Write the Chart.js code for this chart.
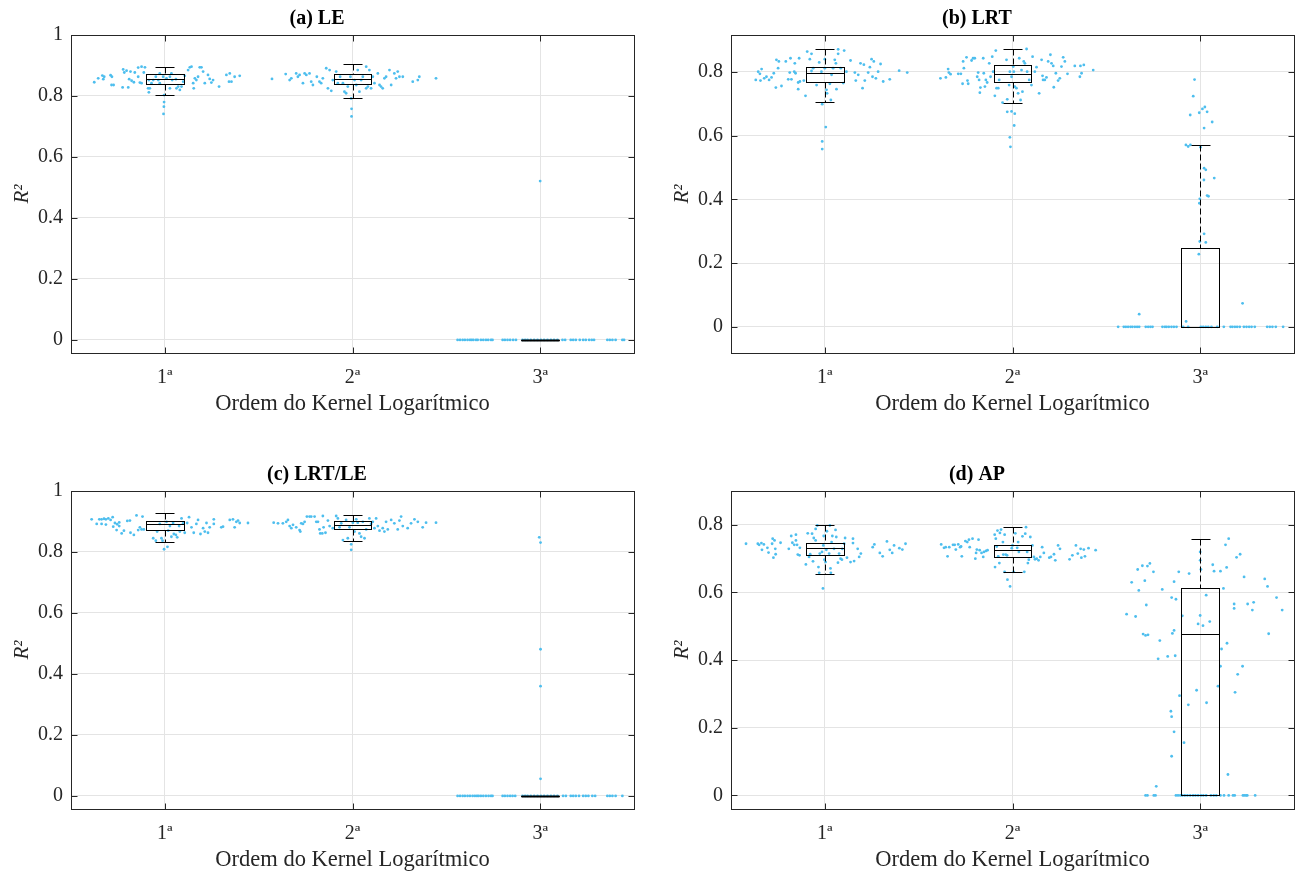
<!DOCTYPE html>
<html>
<head>
<meta charset="utf-8">
<script src="https://cdn.jsdelivr.net/npm/chart.js@4.4.1/dist/chart.umd.min.js"></script>
<style>
  body { margin: 0; background: #fff; overflow: hidden; }
  #wrap { position: relative; width: 1298px; height: 873px; overflow: hidden; }
  canvas { position: absolute; }
</style>
</head>
<body>
<div id="wrap">
  <canvas id="cA" width="644" height="436" style="left:0;top:0"></canvas>
  <canvas id="cB" width="644" height="436" style="left:660px;top:0"></canvas>
  <canvas id="cC" width="644" height="436" style="left:0;top:456px"></canvas>
  <canvas id="cD" width="644" height="436" style="left:660px;top:456px"></canvas>
</div>
<script>
// ── 데이터 ──
const orderLabels = ['1ª', '2ª', '3ª'];
const panelTitles = ['(a) LE', '(b) LRT', '(c) LRT/LE', '(d) AP'];
const xTitle = 'Ordem do Kernel Logarítmico';
const yTitle = 'R²';
const yTicksFull = [0, 0.2, 0.4, 0.6, 0.8, 1];
const yTicksShort = [0, 0.2, 0.4, 0.6, 0.8];

// box stats per order: [lower whisker, q1, median, q3, upper whisker]
const leBoxes = [[0.803, 0.838, 0.856, 0.871, 0.896], [0.792, 0.839, 0.857, 0.873, 0.904], [0, 0, 0, 0, 0]];
const lrtBoxes = [[0.707, 0.769, 0.796, 0.816, 0.871], [0.703, 0.767, 0.793, 0.821, 0.872], [0, 0, 0, 0.247, 0.571]];
const lrtleBoxes = [[0.832, 0.872, 0.891, 0.903, 0.929], [0.836, 0.875, 0.890, 0.901, 0.921], [0, 0, 0, 0, 0]];
const apBoxes = [[0.656, 0.712, 0.732, 0.747, 0.800], [0.660, 0.705, 0.725, 0.741, 0.794], [0, 0, 0.476, 0.614, 0.759]];

// points: [offset from order position, R²]
const le1 = [[-0.376,0.845],[-0.355,0.858],[-0.333,0.867],[-0.328,0.855],[-0.323,0.863],[-0.289,0.868],[-0.282,0.863],[-0.284,0.836],[-0.273,0.836],[-0.222,0.887],[-0.216,0.877],[-0.225,0.828],[-0.195,0.828],[-0.204,0.883],[-0.183,0.880],[-0.190,0.855],[-0.177,0.850],[-0.165,0.845],[-0.160,0.877],[-0.142,0.893],[-0.142,0.863],[-0.133,0.844],[-0.124,0.842],[-0.124,0.896],[-0.106,0.894],[-0.112,0.877],[-0.089,0.825],[-0.080,0.825],[-0.085,0.812],[-0.085,0.852],[-0.071,0.842],[-0.062,0.852],[-0.048,0.863],[-0.035,0.852],[-0.027,0.874],[-0.027,0.842],[-0.009,0.863],[-0.004,0.803],[-0.004,0.780],[-0.005,0.765],[-0.007,0.741],[0.009,0.858],[0.027,0.863],[0.035,0.874],[0.027,0.825],[0.039,0.852],[0.059,0.855],[0.062,0.825],[0.071,0.831],[0.080,0.820],[0.089,0.831],[0.098,0.847],[0.106,0.866],[0.124,0.885],[0.133,0.894],[0.142,0.896],[0.151,0.842],[0.160,0.858],[0.154,0.825],[0.168,0.852],[0.177,0.863],[0.186,0.894],[0.195,0.894],[0.204,0.880],[0.213,0.842],[0.230,0.869],[0.239,0.856],[0.248,0.844],[0.257,0.852],[0.289,0.831],[0.328,0.869],[0.346,0.874],[0.342,0.847],[0.355,0.847],[0.372,0.863],[0.399,0.866]];
const le2 = [[-0.429,0.856],[-0.356,0.872],[-0.335,0.852],[-0.326,0.858],[-0.300,0.874],[-0.291,0.863],[-0.282,0.869],[-0.264,0.842],[-0.255,0.874],[-0.246,0.869],[-0.229,0.874],[-0.220,0.847],[-0.211,0.836],[-0.190,0.863],[-0.176,0.847],[-0.167,0.842],[-0.158,0.858],[-0.140,0.891],[-0.131,0.825],[-0.122,0.885],[-0.113,0.817],[-0.105,0.852],[-0.087,0.880],[-0.078,0.842],[-0.066,0.863],[-0.051,0.842],[-0.043,0.814],[-0.034,0.809],[-0.025,0.831],[-0.011,0.863],[-0.007,0.792],[-0.005,0.758],[-0.005,0.733],[0.011,0.852],[0.020,0.836],[0.028,0.885],[0.037,0.814],[0.046,0.852],[0.055,0.863],[0.073,0.825],[0.073,0.896],[0.082,0.831],[0.090,0.885],[0.099,0.825],[0.108,0.863],[0.117,0.842],[0.135,0.874],[0.144,0.836],[0.152,0.831],[0.161,0.825],[0.170,0.858],[0.179,0.863],[0.197,0.885],[0.206,0.836],[0.223,0.874],[0.232,0.858],[0.241,0.880],[0.250,0.863],[0.268,0.863],[0.321,0.847],[0.348,0.852],[0.356,0.863],[0.445,0.858]];
const le3 = [[-0.440,0],[-0.427,0],[-0.413,0],[-0.401,0],[-0.387,0],[-0.374,0],[-0.365,0],[-0.356,0],[-0.342,0],[-0.333,0],[-0.316,0],[-0.303,0],[-0.289,0],[-0.277,0],[-0.262,0],[-0.254,0],[-0.200,0],[-0.188,0],[-0.174,0],[-0.160,0],[-0.144,0],[-0.129,0],[-0.094,0],[-0.080,0],[-0.067,0],[-0.050,0],[-0.032,0],[-0.014,0],[0.004,0],[0.021,0],[0.039,0],[0.057,0],[0.074,0],[0.092,0],[0.119,0],[0.133,0],[0.163,0],[0.176,0],[0.190,0],[0.211,0],[0.229,0],[0.243,0],[0.261,0],[0.275,0],[0.287,0],[0.358,0],[0.371,0],[0.385,0],[0.402,0],[0.438,0],[0.447,0],[0.000,0.521]];

const lrt1 = [[-0.368,0.775],[-0.355,0.801],[-0.346,0.794],[-0.337,0.809],[-0.343,0.773],[-0.323,0.780],[-0.311,0.785],[-0.297,0.775],[-0.284,0.783],[-0.272,0.796],[-0.261,0.751],[-0.258,0.838],[-0.245,0.833],[-0.249,0.812],[-0.231,0.756],[-0.208,0.833],[-0.195,0.777],[-0.187,0.798],[-0.183,0.843],[-0.178,0.777],[-0.163,0.801],[-0.160,0.827],[-0.156,0.796],[-0.142,0.767],[-0.142,0.746],[-0.137,0.843],[-0.133,0.770],[-0.112,0.773],[-0.103,0.725],[-0.094,0.864],[-0.080,0.840],[-0.071,0.857],[-0.071,0.803],[-0.062,0.812],[-0.044,0.759],[-0.030,0.830],[-0.018,0.801],[0.000,0.840],[0.000,0.812],[0.009,0.744],[0.012,0.733],[0.027,0.763],[0.032,0.712],[0.036,0.791],[0.044,0.812],[0.053,0.838],[0.059,0.827],[0.062,0.746],[0.071,0.871],[0.071,0.857],[0.085,0.812],[0.098,0.765],[0.103,0.867],[0.115,0.801],[0.137,0.836],[0.160,0.798],[0.165,0.773],[0.178,0.791],[0.190,0.827],[0.201,0.749],[0.208,0.823],[0.213,0.773],[0.231,0.798],[0.240,0.815],[0.249,0.840],[0.254,0.785],[0.261,0.833],[0.272,0.780],[0.284,0.801],[0.297,0.825],[0.311,0.770],[0.346,0.777],[0.396,0.804],[0.439,0.798],[-0.014,0.699],[0.005,0.627],[-0.014,0.582],[-0.014,0.558]];
const lrt2 = [[-0.384,0.780],[-0.355,0.783],[-0.343,0.809],[-0.339,0.798],[-0.330,0.793],[-0.289,0.794],[-0.275,0.794],[-0.266,0.763],[-0.263,0.833],[-0.259,0.812],[-0.245,0.846],[-0.240,0.773],[-0.236,0.763],[-0.218,0.836],[-0.210,0.843],[-0.201,0.843],[-0.188,0.785],[-0.183,0.798],[-0.178,0.775],[-0.174,0.735],[-0.171,0.751],[-0.156,0.843],[-0.153,0.796],[-0.147,0.754],[-0.142,0.775],[-0.135,0.767],[-0.124,0.827],[-0.117,0.785],[-0.108,0.848],[-0.103,0.801],[-0.094,0.725],[-0.089,0.867],[-0.085,0.749],[-0.076,0.749],[-0.071,0.775],[-0.053,0.704],[-0.032,0.838],[-0.028,0.714],[-0.018,0.759],[-0.014,0.801],[-0.005,0.785],[0.004,0.817],[0.007,0.801],[0.012,0.754],[0.021,0.749],[0.030,0.733],[0.036,0.843],[0.043,0.712],[0.048,0.806],[0.053,0.738],[0.060,0.833],[0.066,0.827],[0.075,0.872],[0.078,0.801],[0.089,0.775],[0.101,0.759],[0.107,0.848],[0.119,0.801],[0.128,0.815],[0.142,0.733],[0.155,0.838],[0.160,0.788],[0.163,0.775],[0.172,0.775],[0.181,0.783],[0.190,0.833],[0.202,0.854],[0.208,0.827],[0.217,0.819],[0.220,0.752],[0.231,0.796],[0.243,0.773],[0.252,0.780],[0.261,0.817],[0.270,0.846],[0.279,0.833],[0.293,0.794],[0.332,0.819],[0.359,0.785],[0.362,0.819],[0.368,0.796],[0.380,0.822],[0.430,0.806],[-0.028,0.675],[-0.005,0.676],[0.012,0.669],[0.009,0.632],[-0.014,0.595],[-0.011,0.565]];
const lrt3 = [[-0.437,0],[-0.407,0],[-0.396,0],[-0.384,0],[-0.371,0],[-0.361,0],[-0.348,0],[-0.336,0],[-0.325,0],[-0.290,0],[-0.277,0],[-0.265,0],[-0.254,0],[-0.201,0],[-0.188,0],[-0.179,0],[-0.167,0],[-0.153,0],[-0.140,0],[-0.126,0],[-0.091,0],[-0.064,0],[0.004,0],[0.016,0],[0.030,0],[0.043,0],[0.060,0],[0.091,0],[0.126,0],[0.162,0],[0.172,0],[0.185,0],[0.197,0],[0.211,0],[0.233,0],[0.247,0],[0.261,0],[0.274,0],[0.291,0],[0.357,0],[0.371,0],[0.385,0],[0.403,0],[0.442,0],[-0.076,0.571],[-0.064,0.566],[-0.052,0.571],[0.002,0.564],[0.021,0.498],[0.030,0.493],[0.020,0.461],[0.075,0.467],[0.037,0.412],[0.044,0.410],[-0.002,0.402],[-0.004,0.388],[0.021,0.292],[-0.002,0.268],[0.030,0.265],[-0.007,0.228],[-0.075,0.017],[-0.325,0.040],[0.226,0.074],[-0.030,0.776],[-0.037,0.724],[0.025,0.690],[0.012,0.684],[0.037,0.675],[-0.005,0.672],[-0.053,0.665],[0.064,0.643],[0.021,0.624]];

const lrtle1 = [[-0.390,0.907],[-0.363,0.892],[-0.349,0.907],[-0.337,0.907],[-0.337,0.892],[-0.324,0.909],[-0.314,0.907],[-0.314,0.890],[-0.301,0.910],[-0.289,0.905],[-0.278,0.914],[-0.275,0.883],[-0.266,0.895],[-0.257,0.872],[-0.254,0.891],[-0.243,0.897],[-0.243,0.885],[-0.230,0.861],[-0.218,0.870],[-0.200,0.902],[-0.186,0.903],[-0.183,0.863],[-0.165,0.856],[-0.151,0.920],[-0.142,0.872],[-0.133,0.881],[-0.124,0.874],[-0.119,0.916],[-0.112,0.874],[-0.062,0.845],[-0.048,0.837],[-0.041,0.867],[-0.027,0.892],[-0.018,0.845],[-0.012,0.837],[-0.004,0.809],[0.009,0.899],[0.014,0.817],[0.018,0.870],[0.027,0.885],[0.035,0.850],[0.044,0.895],[0.048,0.859],[0.059,0.856],[0.066,0.848],[0.076,0.885],[0.080,0.867],[0.089,0.910],[0.098,0.894],[0.106,0.863],[0.119,0.895],[0.129,0.914],[0.142,0.881],[0.154,0.863],[0.168,0.892],[0.177,0.905],[0.190,0.859],[0.204,0.878],[0.213,0.867],[0.222,0.895],[0.230,0.863],[0.239,0.881],[0.261,0.907],[0.261,0.892],[0.301,0.881],[0.310,0.883],[0.346,0.905],[0.363,0.907],[0.372,0.881],[0.381,0.899],[0.390,0.903],[0.399,0.895],[0.443,0.895]];
const lrtle2 = [[-0.420,0.896],[-0.397,0.894],[-0.371,0.894],[-0.353,0.899],[-0.344,0.905],[-0.335,0.885],[-0.326,0.878],[-0.317,0.889],[-0.300,0.881],[-0.282,0.872],[-0.278,0.867],[-0.273,0.894],[-0.264,0.892],[-0.255,0.899],[-0.243,0.916],[-0.229,0.916],[-0.220,0.916],[-0.202,0.916],[-0.193,0.899],[-0.184,0.899],[-0.176,0.874],[-0.172,0.861],[-0.161,0.861],[-0.158,0.918],[-0.154,0.881],[-0.144,0.863],[-0.131,0.903],[-0.122,0.885],[-0.105,0.878],[-0.087,0.918],[-0.078,0.910],[-0.069,0.881],[-0.060,0.894],[-0.051,0.839],[-0.034,0.905],[-0.025,0.845],[-0.016,0.881],[-0.007,0.825],[-0.007,0.807],[0.002,0.896],[0.011,0.867],[0.020,0.907],[0.028,0.896],[0.037,0.861],[0.046,0.850],[0.055,0.899],[0.064,0.845],[0.073,0.874],[0.090,0.910],[0.099,0.892],[0.108,0.899],[0.117,0.878],[0.126,0.910],[0.135,0.885],[0.144,0.870],[0.161,0.878],[0.170,0.867],[0.179,0.899],[0.188,0.874],[0.206,0.905],[0.223,0.894],[0.241,0.874],[0.250,0.903],[0.259,0.916],[0.268,0.885],[0.294,0.878],[0.312,0.894],[0.330,0.907],[0.348,0.899],[0.374,0.881],[0.392,0.896],[0.445,0.896]];
const lrtle3 = [[-0.440,0],[-0.427,0],[-0.413,0],[-0.401,0],[-0.387,0],[-0.374,0],[-0.360,0],[-0.348,0],[-0.337,0],[-0.328,0],[-0.316,0],[-0.303,0],[-0.289,0],[-0.275,0],[-0.262,0],[-0.254,0],[-0.200,0],[-0.188,0],[-0.174,0],[-0.160,0],[-0.147,0],[-0.133,0],[-0.094,0],[-0.080,0],[-0.067,0],[-0.050,0],[-0.032,0],[-0.014,0],[0.004,0],[0.021,0],[0.039,0],[0.057,0],[0.074,0],[0.092,0],[0.122,0],[0.137,0],[0.163,0],[0.176,0],[0.190,0],[0.207,0],[0.229,0],[0.243,0],[0.257,0],[0.278,0],[0.293,0],[0.358,0],[0.371,0],[0.385,0],[0.402,0],[0.438,0],[-0.005,0.848],[0.002,0.831],[0.002,0.481],[0.002,0.360],[0.002,0.056]];

const ap1 = [[-0.420,0.744],[-0.357,0.744],[-0.350,0.741],[-0.338,0.746],[-0.335,0.726],[-0.325,0.742],[-0.306,0.732],[-0.300,0.718],[-0.281,0.744],[-0.278,0.759],[-0.274,0.703],[-0.268,0.754],[-0.262,0.713],[-0.264,0.729],[-0.236,0.747],[-0.192,0.729],[-0.179,0.767],[-0.173,0.747],[-0.163,0.741],[-0.154,0.771],[-0.154,0.754],[-0.148,0.741],[-0.144,0.712],[-0.133,0.732],[-0.135,0.710],[-0.101,0.683],[-0.091,0.775],[-0.084,0.705],[-0.078,0.713],[-0.068,0.774],[-0.063,0.692],[-0.059,0.761],[-0.049,0.754],[-0.049,0.788],[-0.040,0.798],[-0.034,0.675],[-0.030,0.658],[-0.027,0.715],[-0.015,0.720],[-0.008,0.739],[-0.006,0.767],[-0.002,0.697],[0.004,0.690],[0.008,0.726],[0.011,0.781],[0.023,0.715],[0.027,0.798],[0.030,0.671],[0.032,0.658],[0.036,0.749],[0.040,0.767],[0.049,0.729],[0.057,0.785],[0.061,0.764],[0.070,0.688],[0.076,0.715],[0.084,0.700],[0.091,0.697],[0.093,0.729],[0.103,0.744],[0.108,0.761],[0.118,0.703],[0.137,0.690],[0.150,0.759],[0.150,0.746],[0.156,0.693],[0.175,0.729],[0.183,0.705],[0.192,0.715],[0.255,0.734],[0.264,0.742],[0.293,0.717],[0.308,0.707],[0.331,0.751],[0.346,0.726],[0.359,0.717],[0.369,0.739],[0.397,0.731],[0.413,0.727],[0.430,0.744],[-0.010,0.612]];
const ap2 = [[-0.380,0.742],[-0.365,0.732],[-0.356,0.734],[-0.346,0.707],[-0.337,0.734],[-0.317,0.741],[-0.308,0.741],[-0.302,0.727],[-0.289,0.742],[-0.279,0.734],[-0.274,0.736],[-0.270,0.707],[-0.251,0.752],[-0.241,0.749],[-0.232,0.756],[-0.228,0.734],[-0.213,0.759],[-0.198,0.700],[-0.194,0.717],[-0.190,0.727],[-0.181,0.756],[-0.175,0.725],[-0.165,0.717],[-0.156,0.705],[-0.152,0.720],[-0.141,0.723],[-0.133,0.725],[-0.095,0.771],[-0.093,0.675],[-0.089,0.759],[-0.084,0.736],[-0.080,0.783],[-0.076,0.707],[-0.070,0.687],[-0.067,0.776],[-0.061,0.786],[-0.051,0.749],[-0.049,0.712],[-0.042,0.771],[-0.036,0.712],[-0.042,0.661],[-0.029,0.710],[-0.027,0.638],[-0.013,0.618],[-0.004,0.731],[0.000,0.739],[0.006,0.661],[0.015,0.775],[0.025,0.732],[0.030,0.749],[0.034,0.720],[0.053,0.766],[0.063,0.661],[0.068,0.774],[0.072,0.793],[0.078,0.720],[0.082,0.687],[0.087,0.697],[0.095,0.764],[0.106,0.739],[0.114,0.705],[0.120,0.698],[0.129,0.700],[0.139,0.695],[0.148,0.705],[0.158,0.734],[0.167,0.717],[0.196,0.703],[0.205,0.705],[0.221,0.713],[0.228,0.695],[0.243,0.739],[0.253,0.729],[0.304,0.698],[0.319,0.710],[0.338,0.739],[0.348,0.715],[0.363,0.729],[0.367,0.703],[0.380,0.727],[0.386,0.707],[0.405,0.731],[0.443,0.725]];
const ap3 = [[-0.392,0.536],[-0.365,0.630],[-0.344,0.529],[-0.333,0.668],[-0.327,0.606],[-0.308,0.679],[-0.295,0.635],[-0.287,0.563],[-0.281,0.678],[-0.268,0.686],[-0.249,0.661],[-0.304,0.477],[-0.291,0.473],[-0.278,0.475],[-0.224,0.404],[-0.215,0.458],[-0.202,0.609],[-0.173,0.411],[-0.152,0.585],[-0.148,0.479],[-0.139,0.488],[-0.133,0.413],[-0.129,0.580],[-0.139,0.632],[-0.114,0.661],[-0.110,0.295],[-0.095,0.531],[-0.156,0.249],[-0.152,0.233],[-0.139,0.188],[-0.152,0.116],[-0.086,0.156],[-0.234,0.027],[-0.063,0.268],[-0.059,0.656],[-0.019,0.311],[-0.011,0.507],[0.000,0.532],[0.000,0.720],[0.000,0.695],[0.004,0.668],[0.015,0.502],[0.032,0.592],[0.034,0.274],[0.051,0.514],[0.067,0.682],[0.074,0.663],[0.095,0.323],[0.108,0.663],[0.114,0.433],[0.124,0.612],[0.141,0.674],[0.143,0.450],[0.108,0.382],[0.135,0.741],[0.152,0.759],[0.181,0.566],[0.181,0.553],[0.186,0.305],[0.194,0.704],[0.200,0.358],[0.213,0.713],[0.226,0.382],[0.234,0.646],[0.253,0.566],[0.278,0.548],[0.285,0.571],[0.344,0.640],[0.359,0.618],[0.365,0.478],[0.407,0.585],[0.437,0.548],[0.148,0.062],[-0.291,0],[-0.281,0],[-0.247,0],[-0.238,0],[-0.129,0],[-0.118,0],[-0.106,0],[-0.095,0],[-0.082,0],[-0.068,0],[-0.053,0],[-0.038,0],[-0.025,0],[-0.011,0],[0.004,0],[0.017,0],[0.032,0],[0.057,0],[0.072,0],[0.086,0],[0.108,0],[0.127,0],[0.152,0],[0.175,0],[0.184,0],[0.228,0],[0.236,0],[0.245,0],[0.251,0],[0.293,0]];

// ── 스타일 ──
const SERIF = "'Liberation Serif', 'Times New Roman', serif";
const INK = '#262626';
const DOT = '#4DBEEE';
const BOX_HALF = 0.1, CAP_HALF = 0.05, TICK_LEN = 6;

const crisp = v => Math.round(v) + 0.5;

// ── 박스/프레임 플러그인 ──
const boxPlugin = {
  id: 'boxes',
  afterDatasetsDraw(chart, args, opts) {
    const { ctx, scales: { x, y } } = chart;
    const seg = (x1, y1, x2, y2) => { ctx.beginPath(); ctx.moveTo(x1, y1); ctx.lineTo(x2, y2); ctx.stroke(); };
    ctx.save();
    ctx.strokeStyle = '#000';
    ctx.lineWidth = 1;
    opts.stats.forEach((s, i) => {
      const c = i + 1;
      const [lo, q1, med, q3, hi] = s;
      const xc = crisp(x.getPixelForValue(c));
      const xl = crisp(x.getPixelForValue(c - BOX_HALF)), xr = crisp(x.getPixelForValue(c + BOX_HALF));
      const cl = crisp(x.getPixelForValue(c - CAP_HALF)), cr = crisp(x.getPixelForValue(c + CAP_HALF));
      const py = v => crisp(y.getPixelForValue(v));
      ctx.setLineDash([6, 3]);
      if (hi > q3) seg(xc, py(hi), xc, py(q3));
      if (lo < q1) seg(xc, py(q1), xc, py(lo));
      ctx.setLineDash([]);
      seg(cl, py(hi), cr, py(hi));
      seg(cl, py(lo), cr, py(lo));
      ctx.strokeRect(xl, py(q3), xr - xl, py(q1) - py(q3));
      seg(xl, py(med), xr, py(med));
      if (q3 === q1) { ctx.lineWidth = 2; seg(xl, py(q1), xr, py(q1)); ctx.lineWidth = 1; }
    });
    ctx.restore();
  },
  afterDraw(chart) {
    const { ctx, chartArea: a, scales: { x, y } } = chart;
    ctx.save();
    ctx.strokeStyle = INK;
    ctx.lineWidth = 1;
    const L = crisp(a.left), R = crisp(a.right), T = crisp(a.top), B = crisp(a.bottom);
    ctx.beginPath();
    y.ticks.forEach(t => {
      const p = crisp(y.getPixelForValue(t.value));
      ctx.moveTo(L, p); ctx.lineTo(L + TICK_LEN, p);
      ctx.moveTo(R, p); ctx.lineTo(R - TICK_LEN, p);
    });
    x.ticks.forEach(t => {
      const p = crisp(x.getPixelForValue(t.value));
      ctx.moveTo(p, B); ctx.lineTo(p, B - TICK_LEN);
      ctx.moveTo(p, T); ctx.lineTo(p, T + TICK_LEN);
    });
    ctx.stroke();
    ctx.strokeRect(L, T, R - L, B - T);
    ctx.restore();
  }
};

function makePanel(id, title, groups, stats, yMin, yMax, yTicks) {
  const datasets = groups.map((g, i) => ({
    data: g.map(([dx, v]) => ({ x: i + 1 + dx, y: v })),
    backgroundColor: DOT,
    borderWidth: 0,
    pointRadius: 1.4,
    pointHoverRadius: 1.4
  }));
  return new Chart(document.getElementById(id), {
    type: 'scatter',
    data: { datasets },
    plugins: [boxPlugin],
    options: {
      responsive: false, animation: false, devicePixelRatio: 1,
      layout: { padding: { left: 0, right: 10, top: 0, bottom: 0 } },
      plugins: {
        legend: { display: false }, tooltip: { enabled: false },
        title: {
          display: true, text: title, color: '#000',
          font: { family: SERIF, size: 20, weight: 'bold', lineHeight: 1.2 },
          padding: { top: 7, bottom: 4 }
        },
        boxes: { stats }
      },
      scales: {
        x: {
          type: 'linear', min: 0.5, max: 3.5,
          afterBuildTicks: s => { s.ticks = orderLabels.map((_, i) => ({ value: i + 1 })); },
          afterFit: s => { s.height = 83; },
          ticks: { callback: v => orderLabels[v - 1], color: INK, font: { family: SERIF, size: 20 }, padding: 13 },
          grid: { color: '#e4e4e4', drawTicks: false },
          border: { display: false },
          title: { display: true, text: xTitle, color: INK, font: { family: SERIF, size: 22.5, lineHeight: 1.2 }, padding: { top: 0, bottom: 18 } }
        },
        y: {
          min: yMin, max: yMax,
          afterBuildTicks: s => { s.ticks = yTicks.map(v => ({ value: v })); },
          afterFit: s => { s.width = 71; },
          ticks: { callback: v => String(v), color: INK, font: { family: SERIF, size: 20 }, padding: 8 },
          grid: { color: '#e4e4e4', drawTicks: false },
          border: { display: false },
          title: { display: true, text: yTitle, color: INK, font: { family: SERIF, size: 21, style: 'italic', lineHeight: 1.2 }, padding: { top: 10, bottom: 0 } }
        }
      }
    }
  });
}

// ── 초기화 ──
makePanel('cA', panelTitles[0], [le1, le2, le3], leBoxes, -0.043, 1, yTicksFull);
makePanel('cB', panelTitles[1], [lrt1, lrt2, lrt3], lrtBoxes, -0.082, 0.916, yTicksShort);
makePanel('cC', panelTitles[2], [lrtle1, lrtle2, lrtle3], lrtleBoxes, -0.043, 1, yTicksFull);
makePanel('cD', panelTitles[3], [ap1, ap2, ap3], apBoxes, -0.04, 0.9, yTicksShort);
</script>
</body>
</html>
